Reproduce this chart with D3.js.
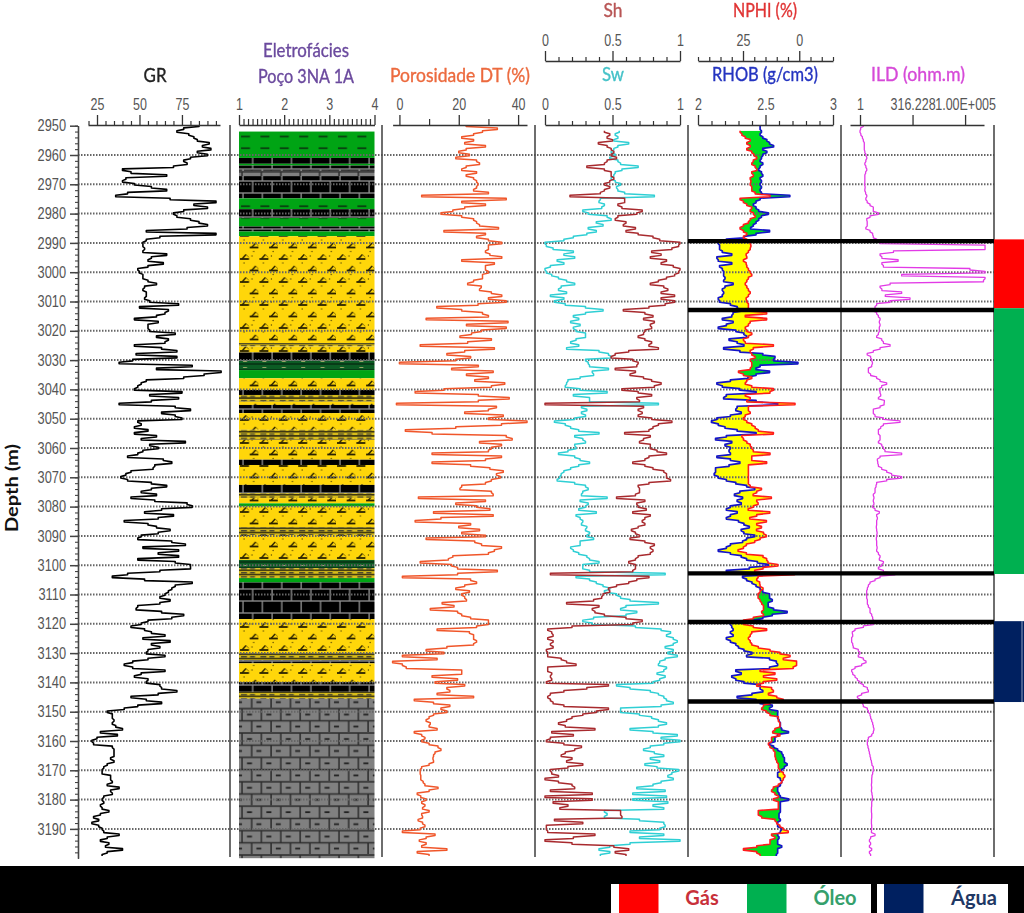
<!DOCTYPE html>
<html><head><meta charset="utf-8">
<script src="https://cdn.jsdelivr.net/npm/d3@7"></script>
<style>
html,body{margin:0;padding:0;background:#fff;overflow:hidden}
svg{display:block;}
#plot{filter:blur(0.45px);}
text{font-family:Lato,'Liberation Sans',Arial,sans-serif}
</style></head><body>
<svg id="chart" width="1024" height="913"></svg>
<script>
const depths = d3.range(2950, 3200);
const gr = [85,76,72,79,82,84,91,87,92,84,
90,80,76,78,70,40,45,66,42,40,
47,57,66,43,36,68,95,82,90,76,
70,72,80,85,90,78,54,95,62,54,
52,52,53,52,66,57,55,64,55,49,
50,52,52,55,60,53,52,54,54,53,
56,73,50,67,65,60,47,61,55,55,
56,71,60,67,65,47,63,72,48,72,
46,38,81,60,98,88,76,54,51,49,
47,75,56,73,57,38,71,80,63,71,
75,49,51,47,55,47,60,51,77,56,
61,52,49,43,64,69,59,58,45,42,
39,43,57,66,57,51,60,45,59,78,
81,63,53,70,61,41,55,60,68,61,
51,49,69,77,52,73,61,73,49,71,
80,80,62,43,34,53,81,71,69,67,
65,62,68,62,49,48,63,76,69,55,
51,45,53,57,65,52,68,57,62,55,
54,65,55,46,41,46,65,51,47,55,
54,62,63,72,61,45,54,63,49,41,
31,34,34,35,34,36,40,27,37,25,
22,23,34,35,35,35,33,35,31,29,
28,28,33,33,34,31,38,33,34,29,
28,29,27,28,32,27,23,26,22,26,
28,29,38,31,27,32,30,40,31,28];
const dt = [22.5,33,28,25,21,25,22,29,22.5,20,
23.6,19,26,27,22.5,21,26,22.5,25,26,
26.5,26,25,30,7.5,36,21,29,22,18,
14,21,25,26,27,33.4,15,29,26,30,
34.5,30,30,29,30.5,34.5,21,32,29,29,
30,28,28,25,23,27.6,27,31,34.5,30,
36,26.5,12.6,21,28,30,9,36.6,22.6,36,
27.7,24.3,20.4,31,23,7,32,22,16,24,
19,0,26.6,17.6,31.6,22.6,30,25.4,35.5,31,
15,5.3,26.6,37,26.6,-1,32.7,30,22,35,
30,43,34.4,19,2,11,36,38,27,34.4,
31,30,11,34.4,29,11,24,30.5,35,32.7,
34,31,29,21,20.4,31,31.6,6.4,29,19,
26,30.5,11.5,31.6,14,5.3,24,20,27,21,
29,9,25.4,27.7,34.4,32,30,18,16.5,7,
17.6,19.6,33,19.6,1,24,26,22,19,23.6,
21,22,22.6,14.4,18.4,10.4,19.6,21,24,30,
30,26,12.7,23.6,25,25,26,25,16,9,
15,1,12.7,-2.3,1,2.3,21,21,11,19.6,
12,22,16,17,12.7,25,5,11.5,17,14,
16,11.5,10,9,10.4,10,12.7,5,7.5,8.6,
7.5,10,13,14,12,11.5,11.3,11.5,10,7.5,
7,7,7.2,7.2,8,8.6,13,10,6,7.2,
9,7.5,8.6,7.8,10,7.5,7.8,6.3,7.8,8.6,
7,1,12,9,6.7,9,7.5,16,6,10];
const sw = [null,null,.55,.52,.54,.51,.62,.54,.51,.49,
.52,.48,.54,.56,.69,.57,.52,.51,.49,.52,
.56,.53,.54,.59,.81,.41,.40,.44,.42,.28,
.32,.46,.49,.38,.43,.32,.38,.31,.21,.14,
0,.01,.06,.21,.14,.22,.09,.14,.04,0,
.01,.05,.10,.16,.22,.12,.10,.16,.04,.14,
.07,.15,.30,.43,.30,.21,.25,.19,.26,.21,
.23,.30,.30,.23,.19,.25,.16,.40,.47,.49,
.30,.32,.33,.47,.35,.36,.26,.17,.16,.15,
.26,.46,.21,.33,.33,.84,.27,.31,.27,.30,
.22,.07,.15,.19,.25,.40,.22,.28,.30,.22,
.23,.17,.10,.22,.26,.33,.25,.19,.14,.12,
.11,.09,.22,.30,.32,.28,.27,.46,.26,.32,
.30,.25,.38,.23,.26,.28,.27,.31,.30,.33,
.31,.36,.26,.26,.19,.21,.25,.31,.33,.40,
.28,.28,.33,.89,.23,.33,.38,.43,.48,.44,
.53,.56,.63,.84,.60,.56,.68,.60,.36,.28,
.35,.67,.86,.93,.90,.95,.98,.95,.89,.95,
.91,.98,.89,.85,.84,.90,.88,.83,.89,.85,
.80,.53,.63,.78,.84,.88,.90,.95,.86,.56,
.56,.70,.79,.84,.90,.84,.63,.80,.98,.86,
1,.88,.78,.73,.81,.88,.78,.85,.74,.83,
.99,.94,.91,.95,.86,.80,.68,.89,.65,.90,
.65,.91,.80,.88,.44,.46,.44,.70,.88,.89,
.85,.63,.88,.70,1,.63,.48,.40,.48,.41];
const sh = [null,null,.44,.48,.46,.50,.395,.46,.49,.51,
.49,.53,.46,.44,.31,.44,.49,.49,.51,.48,
.44,.48,.44,.41,.185,.59,.59,.54,.57,.72,
.68,.54,.52,.60,.58,.67,.60,.69,.80,.85,
1,.99,.94,.79,.86,.78,.90,.86,.95,1,
.99,.96,.90,.84,.78,.88,.91,.86,.96,.86,
.96,.89,.77,.58,.74,.80,.73,.81,.78,.79,
.74,.73,.69,.74,.79,.77,.84,.62,.52,.49,
.65,.69,.68,.52,.67,.63,.73,.79,.86,.81,
.57,.69,.79,.68,.70,0,.73,.69,.72,.69,
.79,.94,.84,.80,.77,.59,.78,.73,.70,.78,
.78,.83,.90,.77,.74,.65,.74,.80,.88,.90,
.90,.93,.77,.69,.70,.70,.67,.53,.74,.68,
.69,.75,.65,.78,.74,.72,.74,.69,.64,.67,
.70,.63,.74,.81,.78,.80,.78,.69,.67,.62,
.67,.67,.65,.04,.77,.68,.62,.53,.47,.48,
.43,.42,.36,.16,.40,.35,.37,.44,.60,.72,
.65,.20,.02,.05,.06,.02,.06,.04,.06,.01,
.02,.02,.12,.16,.23,.02,.02,.05,.04,.05,
.01,.47,.31,.14,.04,.02,.04,.06,.14,.47,
.38,.28,.20,.16,.10,.15,.37,.05,.21,.04,
.01,.14,.27,.22,.15,.12,.20,.16,.28,.17,
.04,.05,.10,0,.10,.20,.22,.04,.35,0,
.35,.06,.17,.11,.56,.56,.57,.07,.28,.01,
.01,.02,.37,.21,0,.20,.51,.62,.52,.60];
const rhob = [2.46,2.46,2.47,2.46,2.48,2.51,2.53,2.56,2.48,2.51,
2.48,2.47,2.46,2.48,2.46,2.45,2.47,2.48,2.46,2.47,
2.46,2.47,2.46,2.47,2.68,2.46,2.43,2.41,2.43,2.45,
2.52,2.47,2.45,2.43,2.41,2.39,2.53,2.43,2.34,2.21,
2.15,2.16,2.16,2.18,2.25,2.14,2.15,2.25,2.16,2.18,
2.19,2.19,2.20,2.19,2.26,2.20,2.18,2.19,2.18,2.15,
2.16,2.24,2.29,2.32,2.26,2.25,2.18,2.26,2.21,2.15,
2.28,2.34,2.36,2.23,2.29,2.34,2.19,2.31,2.48,2.57,
2.56,2.74,2.46,2.43,2.53,2.43,2.37,2.24,2.14,2.18,
2.31,2.43,2.21,2.19,2.43,2.59,2.29,2.28,2.32,2.24,
2.14,2.10,2.15,2.20,2.29,2.43,2.21,2.13,2.25,2.20,
2.24,2.23,2.24,2.14,2.24,2.31,2.23,2.13,2.13,2.12,
2.15,2.21,2.28,2.36,2.42,2.31,2.27,2.33,2.29,2.32,
2.24,2.21,2.29,2.24,2.21,2.30,2.34,2.38,2.32,2.34,
2.42,2.36,2.33,2.24,2.21,2.15,2.24,2.32,2.36,2.44,
2.52,2.38,2.21,2.53,2.33,2.36,2.40,2.43,2.46,2.48,
2.53,2.53,2.55,2.52,2.52,2.56,2.66,2.55,2.48,2.41,
2.24,2.25,2.26,2.24,2.26,2.21,2.24,2.28,2.30,2.34,
2.40,2.36,2.53,2.58,2.59,2.53,2.28,2.32,2.25,2.28,
2.34,2.46,2.46,2.48,2.40,2.29,2.43,2.46,2.55,2.53,
2.59,2.59,2.59,2.60,2.61,2.61,2.62,2.67,2.59,2.57,
2.57,2.53,2.56,2.59,2.62,2.63,2.64,2.64,2.66,2.64,
2.62,2.59,2.59,2.61,2.62,2.61,2.59,2.59,2.60,2.61,
2.67,2.61,2.61,2.61,2.61,2.60,2.60,2.61,2.59,2.59,
2.62,2.61,2.59,2.60,2.59,2.59,2.62,2.59,2.59,2.58];
const nphi = [null,null,26.3,25.5,24,21.8,23.3,21.8,23.3,21.1,
20.1,18.9,20.4,21.1,19.6,18.9,21.1,20.4,21.8,21.5,
21.8,21.1,21.1,19.6,13,26.3,24.8,23.3,21.1,21.8,
20.4,19.6,21.8,22.6,24.8,26.3,24.8,23.3,24.8,23.3,
21.8,21.5,21.8,22.6,23.6,23.3,24.8,23.6,23.3,22.6,
21.8,21.1,22.6,23.3,24,23.3,22.6,21.8,22.6,23.6,
23.3,22.6,22.6,23.3,14.5,24,14.5,21.8,22.6,24,
23.3,21.1,22.6,24.8,24,11.5,20.4,21.8,21.1,19.6,
21.8,21.1,21.1,21.8,27,24.8,21.1,23.3,24,21.1,
11.5,13,24,21.8,23.3,1.9,22.6,22.6,21.8,24,
24.8,23.3,21.1,19.6,18.2,11.5,25.5,24.8,23.3,21.8,
21.1,20.4,13,21.1,21.1,14.5,22.6,22.6,22.6,22.6,
22.6,22.6,22.6,21.8,16.8,18.9,20.5,12.4,18.9,18.3,
20.4,22.7,13.1,18.9,22,14.6,18.9,16.8,19,15.9,
14.6,17.4,19.8,23.5,24.8,27.2,23.5,16.1,14.5,13.9,
9.5,16.1,19.8,2.1,18.3,18.9,17.6,17.4,16.1,17.4,
18.3,18.3,17.4,16.7,15.9,15.9,16.7,15.9,20.4,24.8,
24.8,20.4,14.5,21.1,21.8,22.6,21.8,21.1,18.2,13,
8.6,4.1,7.1,1.2,1.2,2.7,17.4,10.8,15.9,10,
15.9,18.9,12.3,11.5,13.7,10,7.1,13,15.9,16.7,
14.5,13,9.3,9.3,8.6,8.6,10.8,11.8,8.6,12.3,
12.3,13.7,13,11.5,10.8,10.8,10.5,10,9.3,9.3,
8.6,7.1,6.4,7.1,7.8,9.3,11.5,12.3,10.8,9.3,
11.5,9.3,9.3,9.3,18.2,18.2,16.7,10.8,10,8.6,
7.1,4.9,12.3,10.8,13,13,18.9,24.8,18.9,17.4];
const ild = [1.44,1.07,1,1.1,1.3,1.44,1.6,1.6,1.6,1.7,
1.9,2.1,1.9,1.7,1.9,2.1,1.85,1.7,1.7,1.7,
1.65,1.75,1.7,1.85,2.1,1.9,2.2,3,4.3,4.3,
7.5,3,2.1,2.2,2.2,1.9,3,4,4.3,6.2,
9,8.9e5,8.9e5,39,9,11,65,11,13,1.7e5,
8.9e5,96,8.9e5,7.5e5,27,9,11,96,16,240,
27,6.2,5.2,4.3,6.2,7.5,9,8.3,9,8.3,
8.3,7.5,6.2,10.8,13,27,9,4.3,2.2,3.2,
3.6,3.9,3.6,2.5,2.5,3.2,6.2,9,18.6,10.8,
8.3,9,9.7,7.5,14.4,14,9,4.3,4.3,5.2,
13,80,13,9.7,7.5,7.5,9,9,7.5,10.8,
13,15.5,96,9,6.7,7,7.5,10.8,18.6,32,
96,18.6,6.2,5.8,5.2,5.2,4.3,4.6,4.3,4.6,
4,5.2,8.3,6.2,6.7,6.2,6.2,6,6.2,6.5,
6.2,6,6.2,6.2,6.5,6.2,7.5,9,8.3,13,
10.8,7.5,13,46,9,5.2,3,2.5,2.24,2.08,
2.08,2.08,2.24,2.24,2.5,3,3,3.6,4,4.3,
4.3,1.44,.58,.43,.45,.4,.4,.45,.48,.83,
1,.83,1.44,1.93,1.2,.58,.4,.45,.58,.75,
1,1.44,2.24,2.5,1.2,.75,1,1.3,1.44,2.24,
2.5,3,3.2,3.6,4,4.3,4.6,4.3,3.6,2.5,
2.24,2.24,2.4,2.6,2.8,3,3.2,3.5,3.7,4.3,
4.3,4,3.7,3.6,3.6,3.5,3.6,3.5,3.7,3.9,
3.9,3.6,3.6,3.5,3.5,3.6,3.6,3.5,3.5,3.6,
3.6,3.5,5.2,3.2,2.8,3.2,2.8,3.6,2.8,3.2];

const faciesTops = [2952,2961,2963,2963.6,2965.4,2967.2,2974.8,2978.5,2981.5,2984.4,2986.1,2987.7,3024.2,3025.4,3027.4,3030.2,3033.4,3036.2,3040.2,3041.9,3044.2,3045.3,3048.1,3053.8,3057.2,3064,3065.8,3072.6,3075.4,3077.1,3078.9,3080,3087,3089.7,3098.2,3101,3104.4,3105.9,3118.4,3130,3132.4,3133.5,3139.9,3143.2,3145.6];
const faciesBases = [2961,2963,2963.6,2965.4,2967.2,2974.8,2978.5,2981.5,2984.4,2986.1,2987.7,3024.2,3025.4,3027.4,3030.2,3033.4,3036.2,3040.2,3041.9,3044.2,3045.3,3048.1,3053.8,3057.2,3064,3065.8,3072.6,3075.4,3077.1,3078.9,3080,3087,3089.7,3098.2,3101,3104.4,3105.9,3118.4,3130,3132.4,3133.5,3139.9,3143.2,3145.6,3200];
const faciesCodes = ['G','B','G','B','D','B','G','B','G','B','G','Y','T','Y','B','H','G','Y','B','T','Y','B','Y','T','Y','B','Y','B','T','Y','G','Y','T','Y','H','T','G','B','Y','T','B','Y','B','T','D'];

const zoneNames = ['Gás','Óleo','Água'];
const zoneColors = ['#ff0000','#00b050','#002060'];
const zoneLabelColors = ['#c8303a','#35a06c','#1f3864'];
const zoneLineDepths = [2989.4,3012.9,3102.8,3119.4,3146.5];
const sideTops = [2988.8,3012.3,3119.1];
const sideBases = [3012.3,3103,3146.7];

const grTicks=[25,50,75], grMinor=[20,30,35,40,45,55,60,65,70,80,85,90,95];
const faciesTicks=[1,2,3,4], dtTicks=[0,20,40], dtMinor=[10,30];
const fracTicks=[0,.5,1], fracMinor=[.1,.2,.3,.4,.6,.7,.8,.9];
const nphiTicks=[25,0], nphiMinor=[45,40,35,30,20,15,10,5,-5,-10,-15];
const rhobTicks=[2,2.5,3], rhobMinor=[2.1,2.2,2.3,2.4,2.6,2.7,2.8,2.9];
const ildTicks=[1,316.228,100000], ildLabels=['1','316.228','1.00E+005'];
const depthLabels=d3.range(2950,3200,10), depthMinor=d3.range(2950,3200,2);

const svg=d3.select('#chart');
const plot=svg.append('g').attr('id','plot');
plot.append('rect').attr('width',1024).attr('height',913).attr('fill','#fff');
const defs=plot.append('defs');
const y=d3.scaleLinear().domain([2950,3200]).range([125.7,858.2]);

const xGR=d3.scaleLinear().domain([19.7,97.4]).range([88,220]);
const xFac=d3.scaleLinear().domain([1,4]).range([239,374.5]);
const xDT=d3.scaleLinear().domain([-2.3,43]).range([392.6,527]);
const xFrac=d3.scaleLinear().domain([0,1]).range([545,680]);
const xNPHI=d3.scaleLinear().domain([45,-15]).range([698,833]);
const xRHOB=d3.scaleLinear().domain([2,3]).range([698,833]);
const xILD=d3.scaleLog().domain([1,Math.pow(10,5.9)]).range([860,984]);

const TW=19.4;
function tile(id,w,h,bg){const p=defs.append('pattern').attr('id',id).attr('patternUnits','userSpaceOnUse').attr('x',239).attr('y',0).attr('width',w).attr('height',h);
 p.append('rect').attr('width',w).attr('height',h).attr('fill',bg);return p;}
function seg(p,a,b,c,d,col,sw){p.append('line').attr('x1',a).attr('y1',b).attr('x2',c).attr('y2',d).attr('stroke',col).attr('stroke-width',sw);}
let p=tile('Y',TW,23,'#ffd60a');
[[1,6],[10.7,17.5]].forEach(([a,b])=>{
  seg(p,a,b,a+9,b,'#2a2200',1.8); seg(p,a+2,b,a+6,b-4.5,'#2a2200',1.4); seg(p,a+6,b-4.5,a+9,b-1.5,'#5a4a00',.7);
  p.append('circle').attr('cx',a+12).attr('cy',b-3).attr('r',.7).attr('fill','#5a4a00');
  p.append('circle').attr('cx',a+4).attr('cy',b+4).attr('r',.7).attr('fill','#5a4a00');
});
p=tile('T',TW,4.2,'#d8bd1a');
seg(p,0,3.3,TW,3.3,'#3a3410',1.6); seg(p,2,1.5,8,1.5,'#333',1.1); seg(p,11,1.5,16,1.5,'#333',1.1);
p=tile('B',TW,24,'#000');
seg(p,0,1,TW,1,'#8a8a8a',1.4); seg(p,0,13,TW,13,'#8a8a8a',1.4); seg(p,4,1,4,13,'#8a8a8a',1.4); seg(p,13.7,13,13.7,24,'#8a8a8a',1.4); seg(p,13.7,0,13.7,1,'#8a8a8a',1.4);
p=tile('D',TW,24.4,'#808080');
seg(p,0,1,TW,1,'#2c2c2c',1.5); seg(p,0,13.2,TW,13.2,'#2c2c2c',1.5); seg(p,3,1,3,13.2,'#2c2c2c',1.5); seg(p,12.7,13.2,12.7,24.4,'#2c2c2c',1.5);
seg(p,8,7,13,7,'#222',1.8); seg(p,-2,19,3,19,'#222',1.8); seg(p,17.4,19,21.4,19,'#222',1.8);
p=tile('G',TW,11.6,'#00a414');
seg(p,2,9,11,9,'#0a3a10',1.7);
p=tile('H',TW,6,'#0c5c24');
seg(p,0,4,TW,4,'#063012',1.5); seg(p,4,1.5,8,1.5,'#9aa868',1);

plot.append('g').selectAll('rect').data(faciesCodes).join('rect')
 .attr('x',xFac(1)).attr('width',xFac(4)-xFac(1))
 .attr('y',(d,i)=>y(faciesTops[i])).attr('height',(d,i)=>y(faciesBases[i])-y(faciesTops[i]))
 .attr('fill',d=>`url(#${d})`);

// each reading holds a short flat run around its depth, with a sloped link to the next one
function stepPoints(idx,xf){const pts=[];idx.forEach(i=>{const yy=y(depths[i]);pts.push([xf(i),yy-.75],[xf(i),yy+.75]);});return pts;}
function stepPoly(idx,xf,edge){const pts=stepPoints(idx,xf);return 'M'+pts.map(q=>q.join(',')).join('L')+`L${edge},${pts[pts.length-1][1]}L${edge},${pts[0][1]}Z`;}
const both=depths.map((d,i)=>i).filter(i=>nphi[i]!==null);
const L=688,R=841;
defs.append('clipPath').attr('id','leftOfN').append('path').attr('d',stepPoly(both,i=>xNPHI(nphi[i]),L));
defs.append('clipPath').attr('id','rightOfN').append('path').attr('d',stepPoly(both,i=>xNPHI(nphi[i]),R));
plot.append('path').attr('clip-path','url(#leftOfN)').attr('fill','#ffff00').attr('d',stepPoly(both,i=>xRHOB(rhob[i]),R));
plot.append('path').attr('clip-path','url(#rightOfN)').attr('fill','#00e020').attr('d',stepPoly(both,i=>xRHOB(rhob[i]),L));

plot.append('g').selectAll('line').data(depthLabels.slice(1)).join('line')
 .attr('x1',78).attr('x2',994).attr('y1',d=>y(d)).attr('y2',d=>y(d))
 .attr('stroke','#666').attr('stroke-width',2).attr('stroke-dasharray','1.5 1.5');

plot.append('g').selectAll('line').data([230,382,535,688,841,994]).join('line')
 .attr('x1',d=>d).attr('x2',d=>d).attr('y1',125).attr('y2',857).attr('stroke','#4a4a4a').attr('stroke-width',1.6);

function curve(vals,xs,col,w){
 const idx=depths.map((d,i)=>i).filter(i=>vals[i]!==null);
 plot.append('path').attr('fill','none').attr('stroke',col).attr('stroke-width',w).attr('stroke-linejoin','round')
 .attr('d',d3.line()(stepPoints(idx,i=>xs(vals[i]))));
}
curve(gr,xGR.copy().domain([25,75]).range([97,182]),'#000',1.6);
curve(dt,xDT,'#f0562a',1.5);
curve(sw,xFrac,'#2fcfd4',1.5);
curve(sh,xFrac,'#a82a2e',1.5);
curve(rhob,xRHOB,'#1414c8',1.7);
curve(nphi,xNPHI,'#ff1c1c',1.6);
curve(ild,xILD,'#e23ae6',1.3);

function squeeze(sel,f){sel.each(function(){const n=this.getComputedTextLength();d3.select(this).attr('textLength',n*f).attr('lengthAdjust','spacingAndGlyphs');});}
const tickFont="'Liberation Sans',Arial,sans-serif";
function topAxis(yPos,scale,major,minor,labels,minorSize){
 const g=plot.append('g').attr('transform',`translate(0,${yPos})`);
 g.call(d3.axisTop(scale).tickValues(minor).tickFormat('').tickSize(minorSize||4).tickSizeOuter(0));
 g.selectAll('.tick line').attr('stroke','#333').attr('stroke-width',1.2);
 const m=plot.append('g').attr('transform',`translate(0,${yPos})`);
 m.call(d3.axisTop(scale).tickValues(major).tickFormat((d,i)=>labels?labels[i]:d).tickSize(10).tickPadding(5).tickSizeOuter(0));
 m.select('.domain').attr('stroke','#333').attr('stroke-width',1.6);
 g.select('.domain').remove();
 m.selectAll('.tick line').attr('stroke','#333').attr('stroke-width',1.3);
 m.selectAll('text').attr('font-size',16).attr('fill','#555').style('font-family',tickFont).call(squeeze,.78);
}
topAxis(125,xGR,grTicks,grMinor);
topAxis(125,xFac,faciesTicks,d3.range(1,4.01,.1).filter(v=>Math.abs(v-Math.round(v))>.01),null,6);
topAxis(125,xDT,dtTicks,dtMinor,null,6);
topAxis(125,xFrac,fracTicks,fracMinor);
topAxis(61,xFrac,fracTicks,fracMinor);
topAxis(61,xNPHI,nphiTicks,nphiMinor);
topAxis(125,xRHOB,rhobTicks,rhobMinor);
topAxis(125,xILD.copy().domain([Math.pow(10,-.476),Math.pow(10,5.9)]).range([850,984]),ildTicks,[],ildLabels);
const dMin=plot.append('g').attr('transform','translate(78,0)');
dMin.call(d3.axisLeft(y).tickValues(depthMinor).tickFormat('').tickSize(3).tickSizeOuter(0));
dMin.selectAll('line').attr('stroke','#444').attr('stroke-width',1.1);
const dMaj=plot.append('g').attr('transform','translate(78,0)');
dMaj.call(d3.axisLeft(y).tickValues(depthLabels).tickFormat(d3.format('d')).tickSize(8).tickPadding(4).tickSizeOuter(0));
dMaj.select('.domain').attr('stroke','#444').attr('stroke-width',1.6);
dMaj.selectAll('line').attr('stroke','#444').attr('stroke-width',1.5);
dMaj.selectAll('text').attr('font-size',16).attr('fill','#555').style('font-family',tickFont).call(squeeze,.8);

plot.append('g').selectAll('line').data(zoneLineDepths).join('line')
 .attr('x1',688).attr('x2',994).attr('y1',d=>y(d)).attr('y2',d=>y(d)).attr('stroke','#000').attr('stroke-width',4.4);
plot.append('g').selectAll('rect').data(zoneColors).join('rect')
 .attr('x',994).attr('width',30).attr('y',(d,i)=>y(sideTops[i])).attr('height',(d,i)=>y(sideBases[i])-y(sideTops[i])).attr('fill',d=>d);
plot.append('rect').attr('x',1021.5).attr('width',1).attr('y',y(sideTops[2])).attr('height',y(sideBases[2])-y(sideTops[2])).attr('fill','#8fa0c0');

const titles=[['GR',155,82,'#222',23],['Eletrofácies',306,57,'#6b4a9e',86],['Poço 3NA 1A',306,83,'#6b4a9e',96],['Porosidade DT (%)',460,82,'#ec6a3e',140],
 ['Sh',613,17,'#b85555',19],['NPHI (%)',765,17,'#e03434',64],['Sw',613,81,'#45c2c8',22],['RHOB (g/cm3)',765,81,'#2434c0',106],['ILD (ohm.m)',918,81,'#d64ad8',94]];
plot.append('g').selectAll('text').data(titles).join('text')
 .attr('x',d=>d[1]).attr('y',d=>d[2]).attr('text-anchor','middle').attr('font-size',18.5).attr('fill',d=>d[3])
 .attr('stroke',d=>d[3]).attr('stroke-width',.35)
 .attr('textLength',d=>d[4]).attr('lengthAdjust','spacingAndGlyphs').text(d=>d[0]);
plot.append('text').attr('transform','translate(18,488) rotate(-90)').attr('text-anchor','middle')
 .attr('font-size',16.5).attr('font-weight','bold').attr('fill','#111')
 .attr('textLength',88).attr('lengthAdjust','spacingAndGlyphs').text('Depth (m)');

plot.append('rect').attr('x',0).attr('y',866).attr('width',1024).attr('height',47).attr('fill','#000');
plot.append('rect').attr('x',611).attr('y',884).attr('width',260).attr('height',29).attr('fill','#fff');
plot.append('rect').attr('x',877).attr('y',884).attr('width',131).attr('height',29).attr('fill','#fff');
const swX=[619,747,884], lblX=[702,835,974];
plot.append('g').selectAll('rect').data(zoneColors).join('rect')
 .attr('x',(d,i)=>swX[i]).attr('y',884).attr('width',39.5).attr('height',29).attr('fill',d=>d);
plot.append('g').selectAll('text').data(zoneNames).join('text')
 .attr('x',(d,i)=>lblX[i]).attr('y',905).attr('text-anchor','middle').attr('font-size',20).attr('font-weight','bold')
 .attr('fill',(d,i)=>zoneLabelColors[i]).text(d=>d);
</script></body></html>
